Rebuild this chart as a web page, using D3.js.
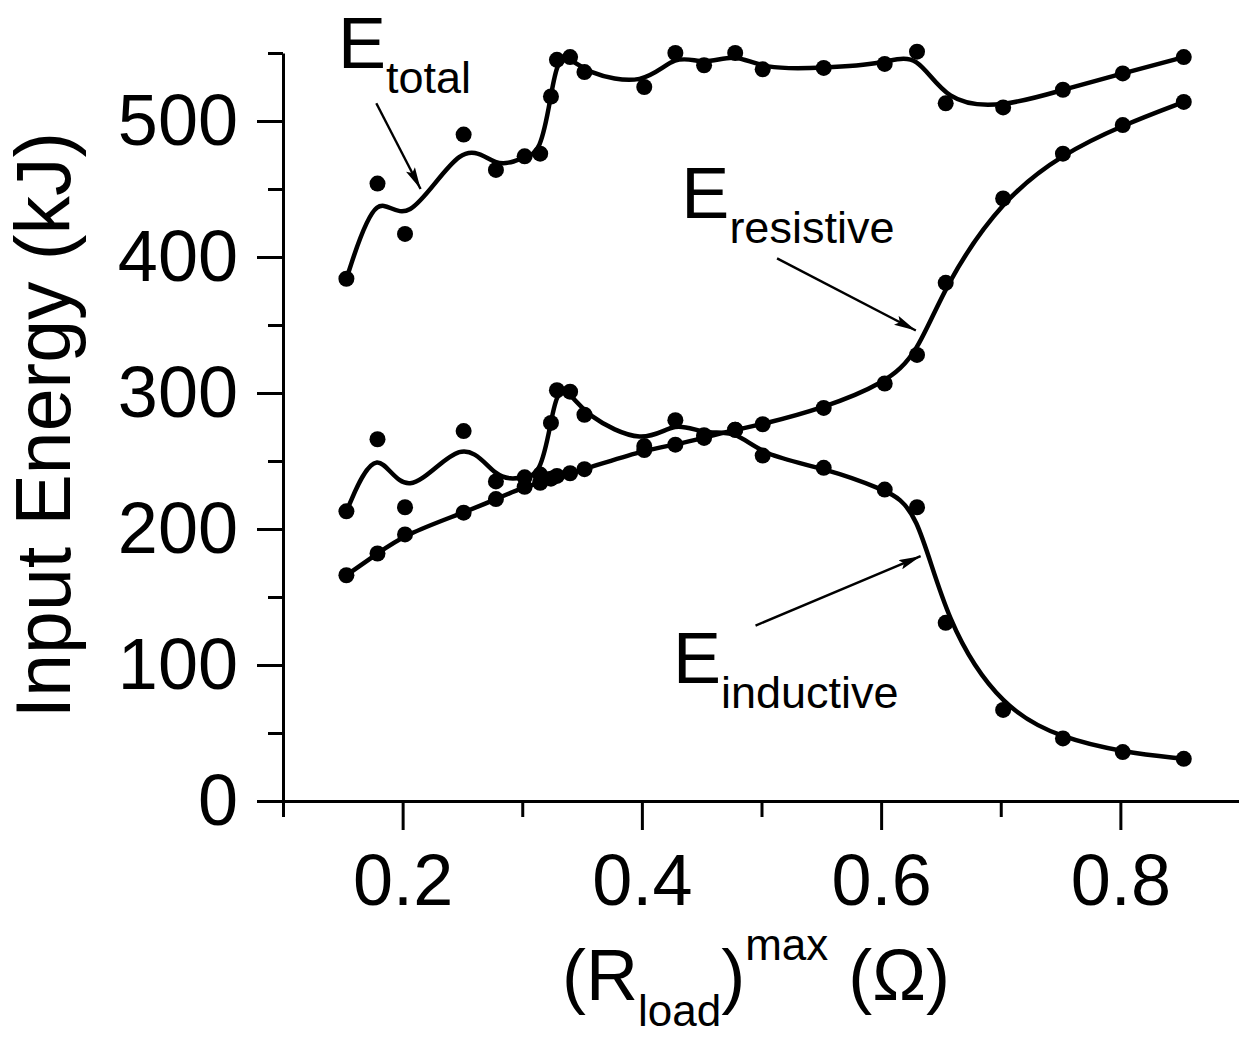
<!DOCTYPE html>
<html>
<head>
<meta charset="utf-8">
<script src="https://cdn.jsdelivr.net/npm/d3@7"></script>
<style>
  html, body { margin: 0; padding: 0; background: #fff; }
  svg { display: block; font-family: "Liberation Sans", Arial, Helvetica, sans-serif; }
</style>
</head>
<body>
<div id="chart"></div>
<script>
// R_load max (ohm) for each measured shot
const rLoad = [0.153, 0.179, 0.202, 0.251, 0.278, 0.302, 0.315, 0.324, 0.329, 0.340, 0.352, 0.402,
               0.428, 0.452, 0.478, 0.501, 0.552, 0.603, 0.630, 0.654, 0.702, 0.752, 0.802, 0.853];

// input energies (kJ)
const eTotal     = [384, 454, 417, 490, 464, 474, 476, 518, 545, 547, 536, 525,
                    550, 541, 550, 538, 539, 542, 551, 513, 510, 523, 535, 547];
const eResistive = [166, 182, 196, 212, 222, 231, 234, 237, 239, 241, 244, 258,
                    262, 267, 273, 277, 289, 307, 328, 381, 443, 476, 497, 514];
const eInductive = [213, 266, 216, 272, 235, 238, 240, 278, 302, 301, 284, 261,
                    280, 269, 273, 254, 245, 229, 216, 131, 67, 46, 36, 31];

const xMajor = [0.2, 0.4, 0.6, 0.8];
const xMinor = [0.1, 0.3, 0.5, 0.7, 0.9];
const yMajor = [0, 100, 200, 300, 400, 500];
const yMinor = [50, 150, 250, 350, 450, 550];

// annotation labels and arrows, in data units
const labels = [
  { x: 0.146, y: 539, sub: "total" },
  { x: 0.433, y: 429, sub: "resistive" },
  { x: 0.426, y: 87,  sub: "inductive" }
];
const arrows = [
  { x1: 0.178, y1: 513, x2: 0.215, y2: 450 },
  { x1: 0.513, y1: 399, x2: 0.629, y2: 346 },
  { x1: 0.495, y1: 129, x2: 0.633, y2: 180 }
];

const W = 1239, H = 1037;
const svg = d3.select("#chart").append("svg")
  .attr("width", W).attr("height", H)
  .attr("viewBox", `0 0 ${W} ${H}`);

const x = d3.scaleLinear().domain([0.1, 0.9]).range([283, 1240]);
const y = d3.scaleLinear().domain([0, 550]).range([801, 53]);

// axes
const styleAxis = g => {
  g.selectAll("path, line").attr("stroke", "#000").attr("stroke-width", 3);
  g.selectAll("text").attr("fill", "#000").style("font-size", "72px")
    .style("font-family", "'Liberation Sans', Arial, sans-serif");
};

svg.append("g").attr("transform", "translate(0,801)")
  .call(d3.axisBottom(x).tickValues(xMinor).tickSize(16).tickFormat("").tickSizeOuter(0))
  .call(g => g.select(".domain").remove())
  .call(styleAxis);
svg.append("g").attr("transform", "translate(0,801)")
  .call(d3.axisBottom(x).tickValues(xMajor).tickSize(29).tickPadding(24).tickSizeOuter(0)
    .tickFormat(d3.format(".1f")))
  .call(styleAxis);

svg.append("g").attr("transform", "translate(283,0)")
  .call(d3.axisLeft(y).tickValues(yMinor).tickSize(15).tickFormat("").tickSizeOuter(0))
  .call(g => g.select(".domain").remove())
  .call(styleAxis);
svg.append("g").attr("transform", "translate(283,0)")
  .call(d3.axisLeft(y).tickValues(yMajor).tickSize(26).tickPadding(19).tickSizeOuter(0))
  .call(styleAxis);

// axis titles
svg.append("text")
  .attr("transform", "translate(70,425) rotate(-90)")
  .attr("text-anchor", "middle")
  .style("font-size", "77px")
  .text("Input Energy (kJ)");

const xt = svg.append("text").attr("x", 562).attr("y", 1000).style("font-size", "72px");
xt.append("tspan").text("(R");
xt.append("tspan").attr("dy", 26).style("font-size", "44px").text("load");
xt.append("tspan").attr("dy", -26).text(")");
xt.append("tspan").attr("dy", -40).style("font-size", "44px").text("max");
xt.append("tspan").attr("dy", 40).text("\u00a0(\u03a9)");

// series
const series = [eTotal, eResistive, eInductive];
const line = d3.line()
  .x((d, i) => x(rLoad[i]))
  .y(d => y(d))
  .curve(d3.curveBasis);

svg.append("g").selectAll("path")
  .data(series)
  .join("path")
  .attr("d", line)
  .attr("fill", "none")
  .attr("stroke", "#000")
  .attr("stroke-width", 4.5);

series.forEach(vals => {
  svg.append("g").selectAll("circle")
    .data(vals)
    .join("circle")
    .attr("cx", (d, i) => x(rLoad[i]))
    .attr("cy", d => y(d))
    .attr("r", 8)
    .attr("fill", "#000");
});

// annotations
svg.append("defs").append("marker")
  .attr("id", "head")
  .attr("markerUnits", "userSpaceOnUse")
  .attr("viewBox", "0 0 22 10")
  .attr("refX", 22).attr("refY", 5)
  .attr("markerWidth", 22).attr("markerHeight", 10)
  .attr("orient", "auto")
  .append("path").attr("d", "M0,0L22,5L0,10L4,5Z").attr("fill", "#000");

svg.append("g").selectAll("line")
  .data(arrows)
  .join("line")
  .attr("x1", d => x(d.x1)).attr("y1", d => y(d.y1))
  .attr("x2", d => x(d.x2)).attr("y2", d => y(d.y2))
  .attr("stroke", "#000").attr("stroke-width", 2.4)
  .attr("marker-end", "url(#head)");

labels.forEach(l => {
  const t = svg.append("text").attr("x", x(l.x)).attr("y", y(l.y)).style("font-size", "72px");
  t.append("tspan").text("E");
  t.append("tspan").attr("dy", 25).style("font-size", "45px").text(l.sub);
});
</script>
</body>
</html>
